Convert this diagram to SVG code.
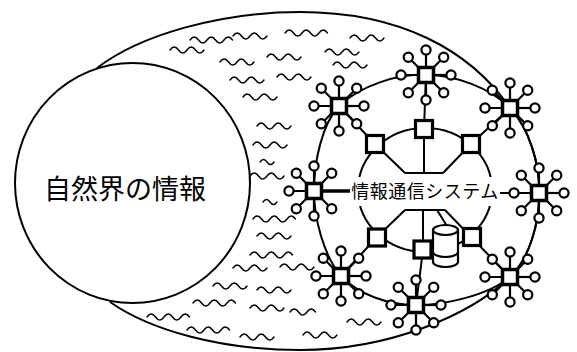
<svg xmlns="http://www.w3.org/2000/svg" xmlns:xlink="http://www.w3.org/1999/xlink" width="577" height="352" viewBox="0 0 577 352">
<style>
.ln{fill:none;stroke:#000;stroke-width:2}
.wv{fill:none;stroke:#000;stroke-width:1.4;stroke-linecap:round}
.sp{fill:none;stroke:#000;stroke-width:2.2}
.sat{fill:#fff;stroke:#000;stroke-width:2.2}
.sq{fill:#fff;stroke:#000;stroke-width:3.5}
.isq{fill:#fff;stroke:#000;stroke-width:3.2}
.big{font-family:"Noto Sans CJK JP","Noto Sans CJK SC",sans-serif;font-size:27px;fill:#000}
.lbl{font-family:"Noto Sans CJK JP","Noto Sans CJK SC",sans-serif;font-size:18px;fill:#000;letter-spacing:0.5px}
</style>
<defs>
<path id="w4" d="M0,0q4.25,-6 8.5,0t8.5,0t8.5,0t8.5,0"/>
<path id="w5" d="M0,0q4.25,-6 8.5,0t8.5,0t8.5,0t8.5,0t8.5,0"/>
<path id="w3" d="M0,0q4.25,-6 8.5,0t8.5,0t8.5,0"/>
<path id="w2" d="M0,0q3.5,-5 7,0t7,0"/>
<g id="n7">
<path class="sp" d="M0,0H-25M0,0V25M0,0V-25M0,0L17.7,17.7M0,0L-17.7,17.7M0,0L-17.7,-17.7M0,0L17.7,-17.7"/>
<circle class="sat" cx="-25" cy="0" r="4.6"/>
<circle class="sat" cx="0" cy="25" r="4.6"/>
<circle class="sat" cx="0" cy="-25" r="4.6"/>
<circle class="sat" cx="17.7" cy="17.7" r="4.6"/>
<circle class="sat" cx="-17.7" cy="17.7" r="4.6"/>
<circle class="sat" cx="-17.7" cy="-17.7" r="4.6"/>
<circle class="sat" cx="17.7" cy="-17.7" r="4.6"/>
<rect class="sq" x="-7.5" y="-7.5" width="15" height="15"/>
</g>
<g id="n8">
<path class="sp" d="M0,0H25"/>
<circle class="sat" cx="25" cy="0" r="4.6"/>
<use xlink:href="#n7" href="#n7"/>
</g>
</defs>

<g id="outer">
<path class="ln" d="M97,68 C140,35 220,12 300,12 C400,12 470,50 510,108 C529,127.8 540.2,164.8 539,193 C539.8,221.2 529.8,258.3 510,277 C470,315 390,350 300,350 C220,350 150,330 110,302"/>
</g>

<g id="nature">
<ellipse cx="132.5" cy="183" rx="117.5" ry="120" fill="#fff" stroke="#000" stroke-width="2"/>
<text class="big" x="125" y="199" text-anchor="middle">自然界の情報</text>
</g>

<g id="waves" class="wv">
<use href="#w5" x="190" y="40"/>
<use href="#w4" x="233" y="36"/>
<use href="#w5" x="285" y="33"/>
<use href="#w4" x="350" y="38"/>
<use href="#w4" x="170" y="50"/>
<use href="#w4" x="220" y="62"/>
<use href="#w4" x="267" y="57"/>
<use href="#w4" x="325" y="52"/>
<use href="#w4" x="230" y="80"/>
<use href="#w4" x="277" y="77"/>
<use href="#w4" x="333" y="65"/>
<use href="#w4" x="243" y="97"/>
<use href="#w4" x="257" y="126"/>
<use href="#w4" x="253" y="145"/>
<use href="#w2" x="260" y="162"/>
<use href="#w4" x="250" y="176"/>
<use href="#w2" x="263" y="202"/>
<use href="#w5" x="253" y="219"/>
<use href="#w4" x="257" y="236"/>
<use href="#w5" x="250" y="255"/>
<use href="#w4" x="233" y="268"/>
<use href="#w4" x="280" y="267"/>
<use href="#w4" x="213" y="286"/>
<use href="#w4" x="257" y="290"/>
<use href="#w5" x="193" y="303"/>
<use href="#w4" x="250" y="308"/>
<use href="#w3" x="290" y="312"/>
<use href="#w5" x="147" y="317"/>
<use href="#w5" x="187" y="330"/>
<use href="#w4" x="240" y="337"/>
<use href="#w4" x="303" y="335"/>
<use href="#w4" x="347" y="322"/>
</g>

<g id="connectors" class="ln">
<path d="M426,75 C454.2,74.5 491,88.2 510,108 C529,127.8 540.2,164.8 539,193 C539.8,221.2 529.8,258.3 510,277 C488.2,295.7 443,305.3 416,305 C387,304.7 358.2,294.2 341,276 C323.8,255.8 314,218.3 314,191 C314,161.7 322,124.3 339,106 C360,85.7 397.8,73.5 426,75 Z"/>
<ellipse cx="425" cy="190" rx="67" ry="62"/>
<path d="M426,75 L424,129 M339,106 L375,144 M510,108 L471,144 M341,276 L377,237 M416,305 L423,250 M510,277 L471,237"/>
<path d="M424,129 V173 M405,173 H443 M375,144 L405,173 M471,144 L443,173"/>
<path d="M405,210 H445 M377,237 L405,210 M471,237 L445,210 M423,210 V250 M437,210 L447,226"/>
<path d="M500,193 H539"/>
<path d="M320,191 H350" stroke-width="3.5"/>
</g>

<g id="system-label">
<rect x="350" y="177" width="150" height="29" fill="#fff"/>
<text class="lbl" x="425" y="198" text-anchor="middle">情報通信システム</text>
</g>

<g id="database">
<path d="M433,230 V262 A12.5,5 0 0 0 458,262 V230" fill="#fff" stroke="#000" stroke-width="2.2"/>
<ellipse cx="445.5" cy="230" rx="12.5" ry="5" fill="#fff" stroke="#000" stroke-width="2.2"/>
<path d="M433,252 A12.5,5 0 0 0 458,252" fill="none" stroke="#000" stroke-width="2"/>
</g>

<g id="inner-nodes">
<rect id="in-t" class="isq" x="415.5" y="120.5" width="17" height="17"/>
<rect id="in-tl" class="isq" x="366.5" y="135.5" width="17" height="17"/>
<rect id="in-tr" class="isq" x="462.5" y="135.5" width="17" height="17"/>
<rect id="in-bl" class="isq" x="368.5" y="229" width="17" height="17"/>
<rect id="in-b" class="isq" x="414" y="241" width="17" height="17"/>
<rect id="in-br" class="isq" x="463.5" y="228.5" width="17" height="17"/>
</g>

<g id="outer-nodes">
<use id="node-t" href="#n8" x="426" y="75"/>
<use id="node-tr" href="#n8" x="510" y="108"/>
<use id="node-r" href="#n8" x="539" y="193"/>
<use id="node-br" href="#n8" x="510" y="277"/>
<use id="node-b" href="#n8" x="416" y="305"/>
<use id="node-bl" href="#n8" x="341" y="276"/>
<use id="node-l" href="#n7" x="314" y="191"/>
<use id="node-tl" href="#n8" x="339" y="106"/>
</g>
</svg>
